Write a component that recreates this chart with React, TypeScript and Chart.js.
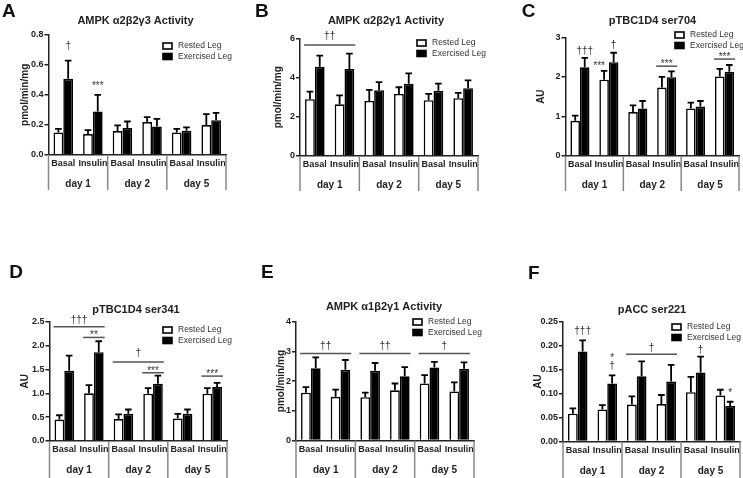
import React, { useEffect, useRef } from 'react';
import { Chart, registerables } from 'chart.js';

Chart.register(...registerables);

const FONT = '"Liberation Sans", Arial, Helvetica, sans-serif';

// ---------- shared labels ----------
const categories = ['Basal', 'Insulin', 'Basal', 'Insulin', 'Basal', 'Insulin'];
const dayLabels = ['day 1', 'day 2', 'day 5'];
const seriesNames = ['Rested Leg', 'Exercised Leg'];

// ---------- A: AMPK a2b2g3 activity ----------
const aRested = [0.149, 0.138, 0.158, 0.218, 0.149, 0.198];
const aRestedErr = [0.024, 0.026, 0.038, 0.033, 0.024, 0.073];
const aExercised = [0.507, 0.289, 0.178, 0.189, 0.16, 0.231];
const aExercisedErr = [0.122, 0.111, 0.044, 0.051, 0.022, 0.049];
const aTicks = [0, 0.2, 0.4, 0.6, 0.8];

// ---------- B: AMPK a2b2g1 activity ----------
const bRested = [2.9, 2.64, 2.81, 3.17, 2.85, 2.95];
const bRestedErr = [0.39, 0.46, 0.57, 0.34, 0.32, 0.27];
const bExercised = [4.56, 4.44, 3.36, 3.69, 3.33, 3.46];
const bExercisedErr = [0.57, 0.79, 0.41, 0.53, 0.37, 0.4];
const bTicks = [0, 2, 4, 6];

// ---------- C: pTBC1D4 ser704 ----------
const cRested = [0.89, 1.93, 1.11, 1.73, 1.2, 2.01];
const cRestedErr = [0.13, 0.22, 0.17, 0.27, 0.15, 0.19];
const cExercised = [2.24, 2.37, 1.2, 1.99, 1.25, 2.13];
const cExercisedErr = [0.24, 0.24, 0.19, 0.15, 0.14, 0.17];
const cTicks = [0, 1, 2, 3];

// ---------- D: pTBC1D4 ser341 ----------
const dRested = [0.45, 1.0, 0.46, 0.99, 0.47, 0.99];
const dRestedErr = [0.09, 0.17, 0.1, 0.12, 0.1, 0.12];
const dExercised = [1.47, 1.86, 0.57, 1.2, 0.57, 1.13];
const dExercisedErr = [0.32, 0.23, 0.09, 0.17, 0.09, 0.09];
const dTicks = [0, 0.5, 1.0, 1.5, 2.0, 2.5];

// ---------- E: AMPK a1b2g1 activity ----------
const eRested = [1.61, 1.47, 1.46, 1.69, 1.92, 1.65];
const eRestedErr = [0.19, 0.24, 0.15, 0.23, 0.28, 0.31];
const eExercised = [2.43, 2.38, 2.35, 2.16, 2.46, 2.42];
const eExercisedErr = [0.37, 0.33, 0.26, 0.31, 0.19, 0.21];
const eTicks = [0, 1, 2, 3, 4];

// ---------- F: pACC ser221 ----------
const fRested = [0.058, 0.067, 0.077, 0.078, 0.103, 0.096];
const fRestedErr = [0.011, 0.009, 0.017, 0.019, 0.032, 0.012];
const fExercised = [0.188, 0.121, 0.136, 0.125, 0.144, 0.074];
const fExercisedErr = [0.023, 0.017, 0.031, 0.035, 0.033, 0.009];
const fTicks = [0, 0.05, 0.1, 0.15, 0.2, 0.25];

// ---------- significance marks (category index, dataset, value) ----------
const aMarks = [
  { text: '†', from: 0, ds: 1, at: 0.727 },
  { text: '***', from: 1, ds: 1, at: 0.476 },
];
const bMarks = [{ text: '††', from: 0, to: 1, line: 5.67, at: 6.09 }];
const cMarks = [
  { text: '†††', from: 0, ds: 1, at: 2.65 },
  { text: '***', from: 1, ds: 0, at: 2.32, dx: -5 },
  { text: '†', from: 1, ds: 1, at: 2.81 },
  { text: '***', from: 3, to: 3, line: 2.27, at: 2.38 },
  { text: '***', from: 5, to: 5, line: 2.45, at: 2.55 },
];
const dMarks = [
  { text: '†††', from: 0, to: 1, line: 2.395, at: 2.535 },
  { text: '**', from: 1, to: 1, line: 2.17, at: 2.26 },
  { text: '†', from: 2, to: 3, line: 1.655, at: 1.84 },
  { text: '***', from: 3, to: 3, line: 1.43, at: 1.52 },
  { text: '***', from: 5, to: 5, line: 1.36, at: 1.45 },
];
const eMarks = [
  { text: '††', from: 0, to: 1, line: 2.93, at: 3.18 },
  { text: '††', from: 2, to: 3, line: 2.93, at: 3.18 },
  { text: '†', from: 4, to: 5, line: 2.93, at: 3.18 },
];
const fMarks = [
  { text: '†††', from: 0, ds: 1, at: 0.231 },
  { text: '†', from: 1, ds: 1, at: 0.156 },
  { text: '*', from: 1, ds: 1, at: 0.178 },
  { text: '†', from: 2, to: 3, line: 0.182, at: 0.1945 },
  { text: '†', from: 4, ds: 1, at: 0.191 },
  { text: '*', from: 5, ds: 1, at: 0.106 },
];

const panels: any[] = [
  {
    letter: 'A', title: 'AMPK α2β2γ3 Activity', yTitle: 'pmol/min/mg',
    rested: aRested, restedErr: aRestedErr, exercised: aExercised, exercisedErr: aExercisedErr,
    ticks: aTicks, decimals: 1, marks: aMarks,
    box: { left: 0, top: 0, w: 245, h: 192 }, plot: { l: 48.5, t: 35, r: 226, b: 154.7 },
    yTitleX: 25.3, titleX: 135.5, titleY: 21, letterX: 2, letterY: 16.7, legX: 163, legY: 46, sepBottom: 190,
  },
  {
    letter: 'B', title: 'AMPK α2β2γ1 Activity', yTitle: 'pmol/min/mg',
    rested: bRested, restedErr: bRestedErr, exercised: bExercised, exercisedErr: bExercisedErr,
    ticks: bTicks, decimals: 0, marks: bMarks,
    box: { left: 245, top: 0, w: 245, h: 193 }, plot: { l: 300, t: 38.5, r: 478, b: 156 },
    yTitleX: 278.5, titleX: 386, titleY: 21, letterX: 255, letterY: 16.7, legX: 417, legY: 43, sepBottom: 191,
  },
  {
    letter: 'C', title: 'pTBC1D4 ser704', yTitle: 'AU',
    rested: cRested, restedErr: cRestedErr, exercised: cExercised, exercisedErr: cExercisedErr,
    ticks: cTicks, decimals: 0, marks: cMarks,
    box: { left: 490, top: 0, w: 253, h: 193 }, plot: { l: 565.5, t: 37.3, r: 739, b: 156 },
    yTitleX: 541, titleX: 652.5, titleY: 21, letterX: 521.7, letterY: 17, legX: 675, legY: 35, sepBottom: 191,
  },
  {
    letter: 'D', title: 'pTBC1D4 ser341', yTitle: 'AU',
    rested: dRested, restedErr: dRestedErr, exercised: dExercised, exercisedErr: dExercisedErr,
    ticks: dTicks, decimals: 1, marks: dMarks,
    box: { left: 0, top: 240, w: 245, h: 238 }, plot: { l: 49.5, t: 321.7, r: 227, b: 441 },
    yTitleX: 25.7, titleX: 136, titleY: 310, letterX: 9.3, letterY: 278.3, legX: 163, legY: 330, sepBottom: 478,
  },
  {
    letter: 'E', title: 'AMPK α1β2γ1 Activity', yTitle: 'pmol/min/mg',
    rested: eRested, restedErr: eRestedErr, exercised: eExercised, exercisedErr: eExercisedErr,
    ticks: eTicks, decimals: 0, marks: eMarks,
    box: { left: 245, top: 240, w: 245, h: 238 }, plot: { l: 296, t: 321.7, r: 474, b: 440.5 },
    yTitleX: 281, titleX: 384, titleY: 307, letterX: 261, letterY: 278.3, legX: 413, legY: 322, sepBottom: 478,
  },
  {
    letter: 'F', title: 'pACC ser221', yTitle: 'AU',
    rested: fRested, restedErr: fRestedErr, exercised: fExercised, exercisedErr: fExercisedErr,
    ticks: fTicks, decimals: 2, marks: fMarks,
    box: { left: 490, top: 240, w: 253, h: 238 }, plot: { l: 563, t: 321.7, r: 740, b: 441.5 },
    yTitleX: 538, titleX: 652, titleY: 310, letterX: 528, letterY: 279, legX: 672, legY: 327, sepBottom: 478,
  },
];

function extrasPlugin(p: any) {
  return {
    id: 'extras' + p.letter,
    afterDatasetsDraw(chart: any) {
      const ctx = chart.ctx;
      const ys = chart.scales.y;
      const m0 = chart.getDatasetMeta(0);
      const m1 = chart.getDatasetMeta(1);
      ctx.save();
      // error bars
      ctx.strokeStyle = '#000';
      ctx.lineWidth = 1.8;
      [[p.rested, p.restedErr, m0], [p.exercised, p.exercisedErr, m1]].forEach(([vals, errs, meta]: any) => {
        meta.data.forEach((el: any, i: number) => {
          const x = el.x;
          const y0 = ys.getPixelForValue(vals[i]);
          const y1 = ys.getPixelForValue(vals[i] + errs[i]);
          const half = el.width * 0.34;
          ctx.beginPath();
          ctx.moveTo(x, y0);
          ctx.lineTo(x, y1);
          ctx.moveTo(x - half, y1);
          ctx.lineTo(x + half, y1);
          ctx.stroke();
        });
      });
      // significance marks
      ctx.fillStyle = '#333';
      ctx.strokeStyle = '#555';
      ctx.lineWidth = 1.5;
      ctx.textAlign = 'center';
      ctx.textBaseline = 'middle';
      p.marks.forEach((mk: any) => {
        let cx;
        if (mk.line !== undefined) {
          const a = m0.data[mk.from];
          const b = m1.data[mk.to];
          const x0 = a.x - a.width / 2 - 1;
          const x1 = b.x + b.width / 2 + 1;
          const ly = ys.getPixelForValue(mk.line);
          ctx.beginPath();
          ctx.moveTo(x0, ly);
          ctx.lineTo(x1, ly);
          ctx.stroke();
          cx = (x0 + x1) / 2;
        } else {
          const el = (mk.ds === 0 ? m0 : m1).data[mk.from];
          cx = el.x;
        }
        cx += mk.dx || 0;
        const isStar = mk.text.indexOf('*') >= 0;
        const size = isStar ? 10 : 10;
        ctx.font = `${size}px ${FONT}`;
        const ty = ys.getPixelForValue(mk.at) + (isStar ? 0.23 * size : 0);
        ctx.fillText(mk.text, cx, ty);
      });
      ctx.restore();
    },
    afterDraw(chart: any) {
      const ctx = chart.ctx;
      const xs = chart.scales.x;
      const area = chart.chartArea;
      const ox = p.box.left;
      const oy = p.box.top;
      ctx.save();
      // group separators
      const px = (i: number) => xs.getPixelForValue(i);
      const seps = [area.left, (px(1) + px(2)) / 2, (px(3) + px(4)) / 2, area.right];
      ctx.strokeStyle = '#888';
      ctx.lineWidth = 1.5;
      seps.forEach((x) => {
        ctx.beginPath();
        ctx.moveTo(x, area.bottom);
        ctx.lineTo(x, p.sepBottom - oy);
        ctx.stroke();
      });
      // day labels
      ctx.fillStyle = '#222';
      ctx.textAlign = 'center';
      ctx.textBaseline = 'middle';
      ctx.font = `bold 10px ${FONT}`;
      dayLabels.forEach((d, g) => {
        ctx.fillText(d, (px(2 * g) + px(2 * g + 1)) / 2, area.bottom + 29.5);
      });
      // title
      ctx.font = `bold 11px ${FONT}`;
      ctx.fillText(p.title, p.titleX - ox, p.titleY - oy);
      // panel letter
      ctx.fillStyle = '#111';
      ctx.textAlign = 'left';
      ctx.textBaseline = 'alphabetic';
      ctx.font = `bold 19px ${FONT}`;
      ctx.fillText(p.letter, p.letterX - ox, p.letterY - oy);
      // legend
      const lx = p.legX - ox;
      const ly = p.legY - oy;
      ctx.font = `8.5px ${FONT}`;
      ctx.textBaseline = 'middle';
      chart.data.datasets.forEach((ds: any, i: number) => {
        const y = ly + i * 10.5;
        ctx.fillStyle = ds.backgroundColor;
        ctx.fillRect(lx, y - 3, 9, 6);
        ctx.strokeStyle = '#000';
        ctx.lineWidth = 1.6;
        ctx.strokeRect(lx, y - 3, 9, 6);
        ctx.fillStyle = '#333';
        ctx.fillText(ds.label, lx + 15, y);
      });
      ctx.restore();
    },
  };
}

function makeConfig(p: any): any {
  const scaleLeft = p.yTitleX - 6;
  const yWidth = p.plot.l - scaleLeft;
  const xHeight = p.box.top + p.box.h - p.plot.b;
  const tickFont = { family: FONT, size: 9, weight: 'bold' as const };
  const common = { categoryPercentage: 0.66, barPercentage: 1, borderWidth: 1.6, borderColor: '#000' };
  return {
    type: 'bar',
    data: {
      labels: categories,
      datasets: [
        { label: seriesNames[0], data: p.rested, backgroundColor: '#ffffff', ...common },
        { label: seriesNames[1], data: p.exercised, backgroundColor: '#000000', ...common },
      ],
    },
    options: {
      animation: false,
      responsive: false,
      events: [],
      layout: {
        padding: {
          left: scaleLeft - p.box.left,
          top: p.plot.t - p.box.top,
          right: p.box.left + p.box.w - p.plot.r,
          bottom: 0,
        },
      },
      plugins: { legend: { display: false }, title: { display: false }, tooltip: { enabled: false } },
      scales: {
        x: {
          grid: { display: false, drawTicks: false },
          border: { display: true, color: '#222', width: 1.5 },
          ticks: { font: tickFont, color: '#222', padding: 3.5, maxRotation: 0, minRotation: 0, autoSkip: false },
          afterFit: (s: any) => {
            s.height = xHeight;
            s.paddingLeft = 0;
            s.paddingRight = 0;
          },
        },
        y: {
          min: 0,
          max: p.ticks[p.ticks.length - 1],
          grid: { display: true, drawOnChartArea: false, drawTicks: true, tickLength: 4, color: '#222', lineWidth: 1.5 },
          border: { display: true, color: '#222', width: 1.5 },
          ticks: {
            font: tickFont,
            color: '#222',
            padding: 1,
            callback: (v: any) => Number(v).toFixed(p.decimals),
          },
          afterBuildTicks: (s: any) => {
            s.ticks = p.ticks.map((v: number) => ({ value: v }));
          },
          title: {
            display: true,
            text: p.yTitle,
            color: '#222',
            font: { family: FONT, size: 10, weight: 'bold' },
            padding: 0,
          },
          afterFit: (s: any) => {
            s.width = yWidth;
            s.paddingTop = 0;
            s.paddingBottom = 0;
          },
        },
      },
    },
    plugins: [extrasPlugin(p)],
  };
}

function Panel({ p }: { p: any }) {
  const ref = useRef<HTMLCanvasElement>(null);
  useEffect(() => {
    if (!ref.current) return;
    const chart = new Chart(ref.current, makeConfig(p));
    return () => chart.destroy();
  }, [p]);
  return (
    <canvas
      ref={ref}
      width={p.box.w}
      height={p.box.h}
      style={{ position: 'absolute', left: p.box.left, top: p.box.top, width: p.box.w, height: p.box.h, display: 'block' }}
    />
  );
}

export default function App() {
  return (
    <div style={{ position: 'absolute', left: 0, top: 0, width: 743, height: 478, background: '#fff', overflow: 'hidden' }}>
      {panels.map((p) => (
        <Panel key={p.letter} p={p} />
      ))}
    </div>
  );
}
